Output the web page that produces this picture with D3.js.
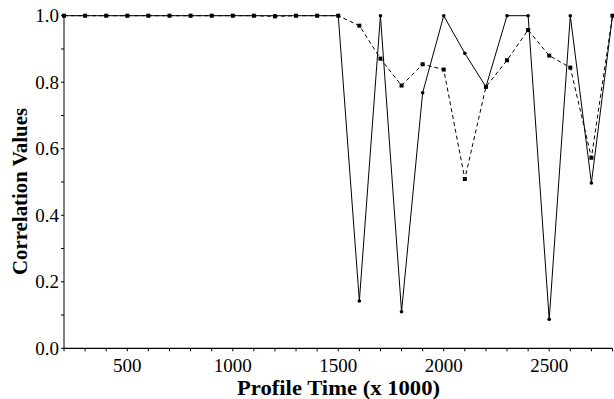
<!DOCTYPE html>
<html><head><meta charset="utf-8">
<script src="https://cdn.jsdelivr.net/npm/d3@7"></script>
<style>body{margin:0;background:#fff}svg{display:block}</style>
</head><body>
<svg id="c" width="614" height="399"></svg>
<script>
const times = [200,300,400,500,600,700,800,900,1000,1100,1200,1300,1400,1500,1600,1700,1800,1900,2000,2100,2200,2300,2400,2500,2600,2700,2800];
const solidValues = [1,1,1,1,1,1,1,1,1,1,1,1,1,1,0.142,1,0.11,0.768,1,0.887,0.786,1,1,0.087,1,0.497,1];
const dashedValues = [1,1,1,1,1,1,1,1,1,1,0.998,1,1,1,0.97,0.871,0.79,0.854,0.838,0.509,0.786,0.866,0.957,0.88,0.844,0.573,1];
const xTicks = [500,1000,1500,2000,2500];
const yTicks = [0,0.2,0.4,0.6,0.8,1.0];

const svg = d3.select("#c");
const x = d3.scaleLinear().domain([200,2800]).range([64,612.5]);
const y = d3.scaleLinear().domain([0,1]).range([348.3,15.7]);
const font = "'Liberation Serif','Times New Roman',serif";

// axes
const xAxis = svg.append("g").attr("transform",`translate(0,${y(0)})`);
xAxis.append("line").attr("x1",x(200)).attr("x2",x(2800)).attr("stroke","#000").attr("stroke-width",1.2);
xAxis.selectAll("line.t").data(d3.range(200,2801,100)).join("line").attr("class","t")
  .attr("x1",d=>x(d)).attr("x2",d=>x(d)).attr("y1",0).attr("y2",3).attr("stroke","#000");
xAxis.selectAll("text").data(xTicks).join("text")
  .attr("x",d=>x(d)).attr("y",23.5).attr("text-anchor","middle")
  .style("font-family",font).style("font-size","19px").text(d=>d);

const yAxis = svg.append("g").attr("transform",`translate(${x(200)},0)`);
yAxis.append("line").attr("y1",y(0)).attr("y2",y(1)).attr("stroke","#000").attr("stroke-width",1);
yAxis.selectAll("line.t").data(d3.range(0,11).map(d=>d/10)).join("line").attr("class","t")
  .attr("x1",-3).attr("x2",0).attr("y1",d=>y(d)).attr("y2",d=>y(d)).attr("stroke","#000");
yAxis.selectAll("text").data(yTicks).join("text")
  .attr("x",-5).attr("y",d=>y(d)).attr("dy","0.34em").attr("text-anchor","end")
  .style("font-family",font).style("font-size","19px").text(d=>d.toFixed(1));

// lines
const line = d3.line().x(d=>x(d[0])).y(d=>y(d[1]));
const solidData = times.map((t,i)=>[t,solidValues[i]]);
const dashedData = times.map((t,i)=>[t,dashedValues[i]]);
svg.append("path").datum(dashedData).attr("d",line).attr("fill","none").attr("stroke","#000")
  .attr("stroke-width",1).attr("stroke-dasharray","4,3");
svg.append("path").datum(solidData).attr("d",line).attr("fill","none").attr("stroke","#000").attr("stroke-width",1);
svg.selectAll("rect.m").data(dashedData).join("rect").attr("class","m")
  .attr("x",d=>x(d[0])-2).attr("y",d=>y(d[1])-2).attr("width",4).attr("height",4).attr("fill","#000");
svg.selectAll("circle.m").data(solidData).join("circle").attr("class","m")
  .attr("cx",d=>x(d[0])).attr("cy",d=>y(d[1])).attr("r",1.8).attr("fill","#000");

// titles
svg.append("text").attr("x",338.5).attr("y",395).attr("text-anchor","middle")
  .attr("textLength",203).attr("lengthAdjust","spacingAndGlyphs")
  .style("font-family",font).style("font-size","21px").style("font-weight","bold").text("Profile Time (x 1000)");
svg.append("text").attr("transform","translate(27,191.5) rotate(-90)").attr("text-anchor","middle")
  .attr("textLength",167).attr("lengthAdjust","spacingAndGlyphs")
  .style("font-family",font).style("font-size","22px").style("font-weight","bold").text("Correlation Values");
</script>
</body></html>
